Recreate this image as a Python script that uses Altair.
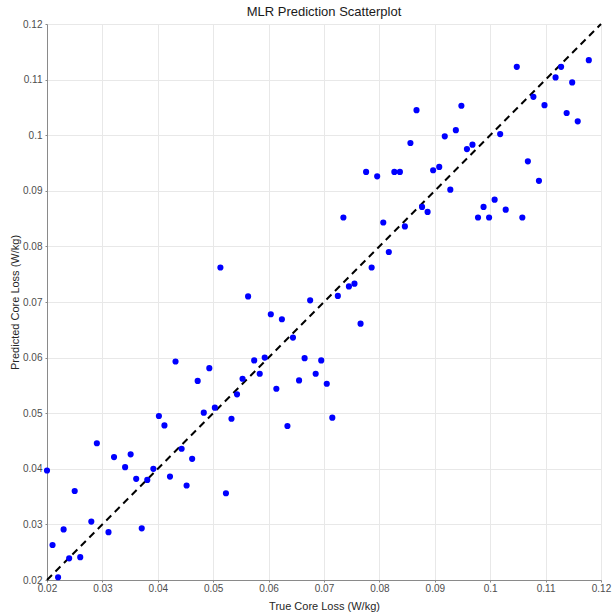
import altair as alt
import pandas as pd

true_loss = [
    0.0200, 0.0210, 0.0220, 0.0230, 0.0240, 0.0250, 0.0260, 0.0280, 0.0290, 0.0311,
    0.0321, 0.0341, 0.0351, 0.0361, 0.0371, 0.0381, 0.0392, 0.0402, 0.0412, 0.0422,
    0.0432, 0.0443, 0.0452, 0.0462, 0.0472, 0.0483, 0.0493, 0.0503, 0.0513, 0.0523,
    0.0533, 0.0543, 0.0553, 0.0563, 0.0574, 0.0584, 0.0593, 0.0604, 0.0614, 0.0624,
    0.0634, 0.0644, 0.0655, 0.0665, 0.0675, 0.0685, 0.0695, 0.0705, 0.0715, 0.0725,
    0.0735, 0.0745, 0.0755, 0.0766, 0.0776, 0.0786, 0.0796, 0.0807, 0.0817, 0.0827,
    0.0837, 0.0846, 0.0856, 0.0867, 0.0877, 0.0887, 0.0897, 0.0908, 0.0918, 0.0928,
    0.0938, 0.0948, 0.0958, 0.0968, 0.0978, 0.0988, 0.0998, 0.1008, 0.1018, 0.1028,
    0.1048, 0.1058, 0.1068, 0.1078, 0.1088, 0.1098, 0.1118, 0.1128, 0.1138, 0.1148,
    0.1158, 0.1178,
]
pred_loss = [
    0.0397, 0.0263, 0.0205, 0.0291, 0.0239, 0.0360, 0.0241, 0.0305, 0.0446, 0.0286,
    0.0421, 0.0403, 0.0426, 0.0382, 0.0293, 0.0380, 0.0400, 0.0495, 0.0478, 0.0386,
    0.0593, 0.0436, 0.0370, 0.0418, 0.0558, 0.0501, 0.0581, 0.0510, 0.0762, 0.0356,
    0.0490, 0.0534, 0.0562, 0.0710, 0.0595, 0.0571, 0.0600, 0.0678, 0.0544, 0.0669,
    0.0477, 0.0636, 0.0559, 0.0599, 0.0703, 0.0571, 0.0595, 0.0553, 0.0492, 0.0711,
    0.0852, 0.0728, 0.0733, 0.0661, 0.0934, 0.0762, 0.0926, 0.0843, 0.0790, 0.0934,
    0.0934, 0.0836, 0.0986, 0.1045, 0.0871, 0.0862, 0.0937, 0.0943, 0.0998, 0.0902,
    0.1009, 0.1053, 0.0975, 0.0983, 0.0852, 0.0871, 0.0852, 0.0884, 0.1002, 0.0866,
    0.1123, 0.0852, 0.0953, 0.1069, 0.0918, 0.1054, 0.1104, 0.1123, 0.1040, 0.1095,
    0.1025, 0.1135,
]
ref_line = [0.02, 0.12]
tick_values = [0.02, 0.03, 0.04, 0.05, 0.06, 0.07, 0.08, 0.09, 0.10, 0.11, 0.12]

df = pd.DataFrame({"true": true_loss, "pred": pred_loss})
line_df = pd.DataFrame({"true": ref_line, "pred": ref_line})

axis_common = dict(
    values=tick_values,
    format=".2~f",
    grid=True,
    gridColor="#e8e8e8",
    gridWidth=1,
    domainColor="#8a8a8a",
    tickColor="#8a8a8a",
    tickSize=2,
    labelFlush=False,
    labelColor="#4d4d4d",
    labelFont="Liberation Sans",
    labelFontSize=10,
    titleFont="Liberation Sans",
    titleFontSize=11,
    titleFontWeight="normal",
    titleColor="#262626",
)

x_scale = alt.Scale(domain=[0.02, 0.12], nice=False, zero=False)
y_scale = alt.Scale(domain=[0.02, 0.12], nice=False, zero=False)

points = alt.Chart(df).mark_circle(size=38, color="#0000ff", opacity=1).encode(
    x=alt.X("true:Q", scale=x_scale,
            axis=alt.Axis(title="True Core Loss (W/kg)", labelPadding=1, titlePadding=7, **axis_common)),
    y=alt.Y("pred:Q", scale=y_scale,
            axis=alt.Axis(title="Predicted Core Loss (W/kg)", labelPadding=3, titlePadding=2, **axis_common)),
)

line = alt.Chart(line_df).mark_line(color="black", strokeWidth=2, strokeDash=[7, 5]).encode(
    x=alt.X("true:Q", scale=x_scale),
    y=alt.Y("pred:Q", scale=y_scale),
)

chart = (line + points).properties(
    width=554,
    height=556,
    title=alt.TitleParams("MLR Prediction Scatterplot", font="Liberation Sans", fontSize=13,
                          fontWeight="normal", color="#1a1a1a", offset=6, dy=6),
    autosize=alt.AutoSizeParams(type="none"),
    padding={"left": 47, "top": 24, "right": 11, "bottom": 34},
).configure_view(stroke=None).configure(background="white")

chart.save("out.html", embed_options={"renderer": "svg", "actions": False})
